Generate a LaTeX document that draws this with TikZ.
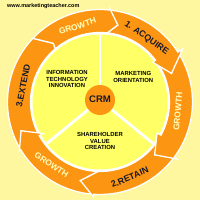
\documentclass[tikz,border=0pt]{standalone}
\usepackage{fontspec}
\setmainfont{Liberation Sans}
\usepackage{xcolor}
\usetikzlibrary{math}
\definecolor{bgyellow}{RGB}{255,247,160}
\definecolor{discyellow}{RGB}{255,255,102}
\definecolor{ringorange}{RGB}{252,150,18}
\definecolor{growthtext}{RGB}{255,255,190}
\definecolor{stagetext}{RGB}{25,25,45}

\begin{document}
\begin{tikzpicture}[x=0.025cm, y=0.025cm,
  segment/.style={fill=ringorange, draw=white, line width=0.9pt, line join=miter},
  spoke/.style={draw=white, line width=2pt},
  stagelabel/.style={text=stagetext, font=\fontsize{6.3}{7}\selectfont\bfseries, inner sep=0pt},
  growthlabel/.style={text=growthtext, font=\fontsize{6}{7}\selectfont\bfseries, inner sep=0pt},
  corelabel/.style={text=black, font=\fontsize{4.2}{4.5}\selectfont\bfseries, align=center, inner sep=0pt}]
\tikzmath{
\R=92.5;
\r=69.5;
\disc=67.5;
}
\useasboundingbox (-100,-98) rectangle (100,102);
\fill[bgyellow] (-100,-98) rectangle (100,102);
\coordinate (O) at (0,0);

% inner disc and spokes
\fill[white] (O) circle[radius=70];
\fill[discyellow] (O) circle[radius=\disc];
\coordinate (crm) at (0,2);
\draw[spoke] (crm) -- (90:\disc);
\draw[spoke] (crm) -- (-38:\disc);
\draw[spoke] (crm) -- (218:\disc);

% ring, drawn against the clock so each head lies on the next tail
\filldraw[segment] (-149:\R) -- (-160:84) -- (-151:\r) arc[start angle=-151, end angle=-230, radius=\r] -- (-231.5:75) -- (-223.5:\R) arc[start angle=-223.5, end angle=-149, radius=\R] -- cycle;
\filldraw[segment] (-94:\R) -- (-104:81) -- (-91.5:\r) arc[start angle=-91.5, end angle=-151, radius=\r] -- (-151:65) -- (-160:84) -- (-149:94) -- (-149:\R) arc[start angle=-149, end angle=-94, radius=\R] -- cycle;
\filldraw[segment] (-36.5:\R) -- (-44:76) -- (-28.5:\r) arc[start angle=-28.5, end angle=-91.5, radius=\r] -- (-104:81) -- (-94:95) -- (-94:\R) arc[start angle=-94, end angle=-36.5, radius=\R] -- cycle;
\filldraw[segment] (32.6:\R) -- (21.8:77) -- (37:\r) arc[start angle=37, end angle=-28.5, radius=\r] -- (-28.5:65) -- (-44:76) -- (-36.5:96) -- (-36.5:\R) arc[start angle=-36.5, end angle=32.6, radius=\R] -- cycle;
\filldraw[segment] (84:\R) -- (77:79) -- (84:\r) arc[start angle=84, end angle=37, radius=\r] -- (37:66) -- (21.8:77) -- (32.6:98) -- (32.6:\R) arc[start angle=32.6, end angle=84, radius=\R] -- cycle;
\filldraw[segment] (136.5:\R) -- (128.5:75) -- (130:\r) arc[start angle=130, end angle=84, radius=\r] -- (77:79) -- (84:94) -- (84:\R) arc[start angle=84, end angle=136.5, radius=\R] -- cycle;

% ring labels
\node[stagelabel, rotate=-35] (acquire) at (54:79) {1. ACQUIRE};
\node[growthlabel, rotate=85] (growthr) at (-7:78.5) {GROWTH};
\node[stagelabel, rotate=23] (retain) at (-68.5:81) {2.RETAIN};
\node[growthlabel, rotate=-34] (growthb) at (232.4:79.5) {GROWTH};
\node[stagelabel, rotate=79] (extend) at (168:78.6) {3.EXTEND};
\node[growthlabel, rotate=18] (growtht) at (106.5:79) {GROWTH};

% sectors
\node[corelabel] (innovation) at (-33,23) {INFORMATION\\TECHNOLOGY\\INNOVATION};
\node[corelabel] (marketing) at (33.3,25) {MARKETING\\ORIENTATION};
\node[corelabel] (shareholder) at (0,-39) {SHAREHOLDER\\VALUE\\CREATION};

\fill[ringorange] (crm) circle[radius=15];
\node[text=stagetext, font=\fontsize{6.8}{7}\selectfont\bfseries] (crmlabel) at (0,3) {CRM};

\node[font=\fontsize{3.9}{4}\selectfont\bfseries, inner sep=0pt] (site) at (-56.7,96) {www.marketingteacher.com};
\end{tikzpicture}
\end{document}
